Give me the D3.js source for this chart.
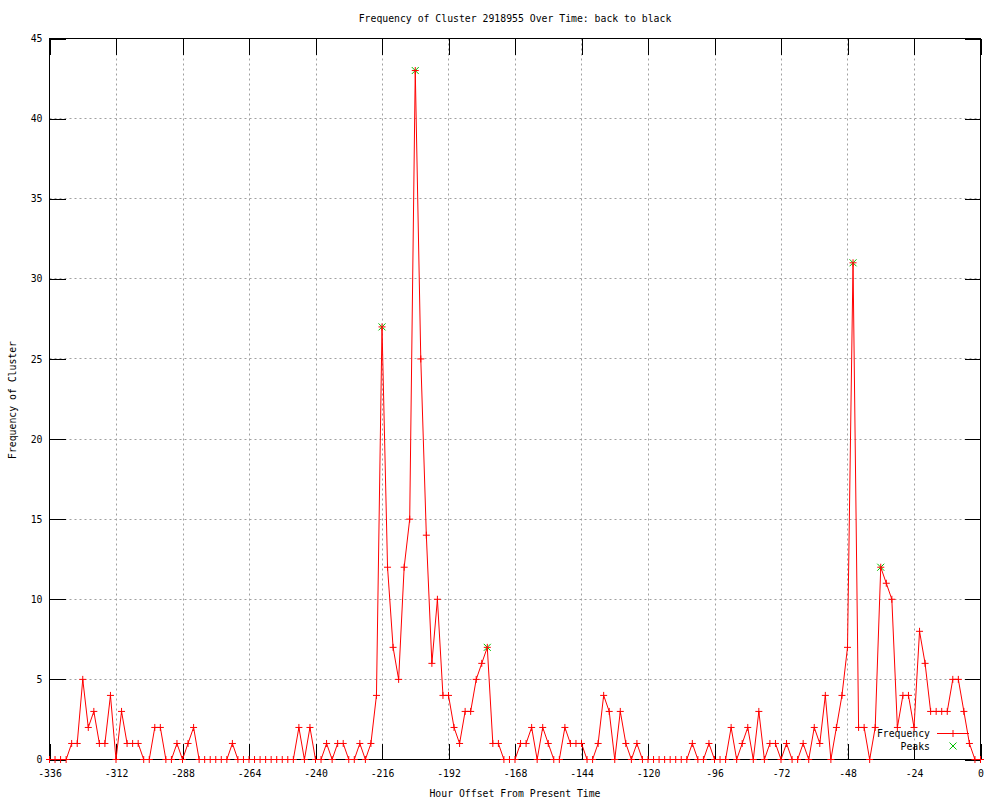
<!DOCTYPE html>
<html>
<head>
<meta charset="utf-8">
<script src="https://cdn.jsdelivr.net/npm/d3@7"></script>
<style>
  html, body { margin: 0; padding: 0; background: #fff; }
  text { font-family: "DejaVu Sans Mono", "Liberation Mono", monospace; font-size: 9.8px; fill: #000; }
</style>
</head>
<body>
<svg id="chart" width="1000" height="800"></svg>
<script>
// ---- data ----
const titleText = "Frequency of Cluster 2918955 Over Time: back to black";
const xLabel = "Hour Offset From Present Time";
const yLabel = "Frequency of Cluster";

const hours = [
  -336,-334,-332,-330,-328,-326,-324,-322,-320,-318,-316,-314,
  -312,-310,-308,-306,-304,-302,-300,-298,-296,-294,-292,-290,
  -288,-286,-284,-282,-280,-278,-276,-274,-272,-270,-268,-266,
  -264,-262,-260,-258,-256,-254,-252,-250,-248,-246,-244,-242,
  -240,-238,-236,-234,-232,-230,-228,-226,-224,-222,-220,-218,
  -216,-214,-212,-210,-208,-206,-204,-202,-200,-198,-196,-194,
  -192,-190,-188,-186,-184,-182,-180,-178,-176,-174,-172,-170,
  -168,-166,-164,-162,-160,-158,-156,-154,-152,-150,-148,-146,
  -144,-142,-140,-138,-136,-134,-132,-130,-128,-126,-124,-122,
  -120,-118,-116,-114,-112,-110,-108,-106,-104,-102,-100,-98,
  -96,-94,-92,-90,-88,-86,-84,-82,-80,-78,-76,-74,
  -72,-70,-68,-66,-64,-62,-60,-58,-56,-54,-52,-50,
  -48,-46,-44,-42,-40,-38,-36,-34,-32,-30,-28,-26,
  -24,-22,-20,-18,-16,-14,-12,-10,-8,-6,-4,-2,
  0
];
const frequency = [
  0,0,0,0,1,1,5,2,3,1,1,4,
  0,3,1,1,1,0,0,2,2,0,0,1,
  0,1,2,0,0,0,0,0,0,1,0,0,
  0,0,0,0,0,0,0,0,0,2,0,2,
  0,0,1,0,1,1,0,0,1,0,1,4,
  27,12,7,5,12,15,43,25,14,6,10,4,
  4,2,1,3,3,5,6,7,1,1,0,0,
  0,1,1,2,0,2,1,0,0,2,1,1,
  1,0,0,1,4,3,0,3,1,0,1,0,
  0,0,0,0,0,0,0,0,1,0,0,1,
  0,0,0,2,0,1,2,0,3,0,1,1,
  0,1,0,0,1,0,2,1,4,0,2,4,
  7,31,2,2,0,2,12,11,10,2,4,4,
  2,8,6,3,3,3,3,5,5,3,1,0,
  0
];
const peakHours = [-216, -204, -178, -46, -36];
const peakValues = [27, 43, 7, 31, 12];

const xTicks = [-336,-312,-288,-264,-240,-216,-192,-168,-144,-120,-96,-72,-48,-24,0];
const xTickLabels = ["-336","-312","-288","-264","-240","-216","-192","-168","-144","-120","-96","-72","-48","-24","0"];
const yTicks = [0,5,10,15,20,25,30,35,40,45];
const yTickLabels = ["0","5","10","15","20","25","30","35","40","45"];
const legendNames = ["Frequency", "Peaks"];

// ---- layout ----
const L = 49.5, R = 980.5, T = 38.5, B = 759.5;
const svg = d3.select("#chart");
svg.append("rect").attr("width", 1000).attr("height", 800).attr("fill", "#fff");

const x = d3.scaleLinear().domain([-336, 0]).range([L, R]);
const y = d3.scaleLinear().domain([0, 45]).range([B, T]);

// grid
const grid = svg.append("g").attr("stroke", "#a0a0a0").attr("stroke-width", 1).attr("stroke-dasharray", "2,3").attr("fill", "none");
xTicks.filter(t => t !== -336 && t !== 0).forEach(t => {
  const xx = Math.round(x(t)) + 0.5;
  grid.append("line").attr("x1", xx).attr("x2", xx).attr("y1", T).attr("y2", B);
});
yTicks.filter(t => t !== 0 && t !== 45).forEach(t => {
  const yy = Math.round(y(t) - 0.5) + 0.5;
  grid.append("line").attr("x1", L).attr("x2", R).attr("y1", yy).attr("y2", yy);
});

// axes
const fmtX = d => xTickLabels[xTicks.indexOf(d)];
const fmtY = d => yTickLabels[yTicks.indexOf(d)];
const axB = svg.append("g").attr("transform", `translate(0,${B})`)
  .call(d3.axisBottom(x).tickValues(xTicks).tickFormat(fmtX).tickSize(-16).tickSizeOuter(0).tickPadding(11));
const axT = svg.append("g").attr("transform", `translate(0,${T})`)
  .call(d3.axisTop(x).tickValues(xTicks).tickFormat("").tickSize(-16).tickSizeOuter(0));
const axL = svg.append("g").attr("transform", `translate(${L},0)`)
  .call(d3.axisLeft(y).tickValues(yTicks).tickFormat(fmtY).tickSize(-16).tickSizeOuter(0).tickPadding(7));
const axR = svg.append("g").attr("transform", `translate(${R},0)`)
  .call(d3.axisRight(y).tickValues(yTicks).tickFormat("").tickSize(-16).tickSizeOuter(0));
[axB, axT, axL, axR].forEach(a => {
  a.selectAll(".domain").remove();
  a.selectAll(".tick line").attr("stroke", "#000").attr("shape-rendering", "crispEdges");
  a.selectAll("text").attr("font-family", "DejaVu Sans Mono").attr("font-size", 9.8).attr("fill", "#000");
});

// border
svg.append("rect").attr("x", L).attr("y", T).attr("width", R - L).attr("height", B - T)
  .attr("fill", "none").attr("stroke", "#000").attr("stroke-width", 1).attr("shape-rendering", "crispEdges");

// frequency line
const pts = hours.map((h, i) => [h, frequency[i]]);
svg.append("path").datum(pts)
  .attr("fill", "none").attr("stroke", "#ff0000").attr("stroke-width", 1)
  .attr("d", d3.line().x(d => x(d[0])).y(d => y(d[1])));

// peaks (green x)
const xMark = "M-3.5,-3.5L3.5,3.5M-3.5,3.5L3.5,-3.5";
const plusMark = "M-3.5,0H3.5M0,-3.5V3.5";
svg.append("g").selectAll("path").data(peakHours.map((h, i) => [h, peakValues[i]])).join("path")
  .attr("transform", d => `translate(${x(d[0])},${y(d[1])})`)
  .attr("d", xMark).attr("stroke", "#00c000").attr("stroke-width", 1).attr("fill", "none");

// frequency points (+)
svg.append("g").selectAll("path").data(pts).join("path")
  .attr("transform", d => `translate(${x(d[0])},${y(d[1])})`)
  .attr("d", plusMark).attr("stroke", "#ff0000").attr("stroke-width", 1).attr("fill", "none");

// titles
svg.append("text").attr("x", 515).attr("y", 22).attr("text-anchor", "middle").text(titleText);
svg.append("text").attr("x", 515).attr("y", 797).attr("text-anchor", "middle").text(xLabel);
svg.append("text").attr("transform", "translate(16,400) rotate(-90)").attr("text-anchor", "middle").text(yLabel);

// legend
const lg = svg.append("g");
lg.append("text").attr("x", 930).attr("y", 737).attr("text-anchor", "end").text(legendNames[0]);
lg.append("line").attr("x1", 937).attr("x2", 969).attr("y1", 733.5).attr("y2", 733.5).attr("stroke", "#ff0000");
lg.append("path").attr("transform", "translate(953,733.5)").attr("d", plusMark).attr("stroke", "#ff0000").attr("fill", "none");
lg.append("text").attr("x", 930).attr("y", 750).attr("text-anchor", "end").text(legendNames[1]);
lg.append("path").attr("transform", "translate(953,746)").attr("d", xMark).attr("stroke", "#00c000").attr("fill", "none");
</script>
</body>
</html>
